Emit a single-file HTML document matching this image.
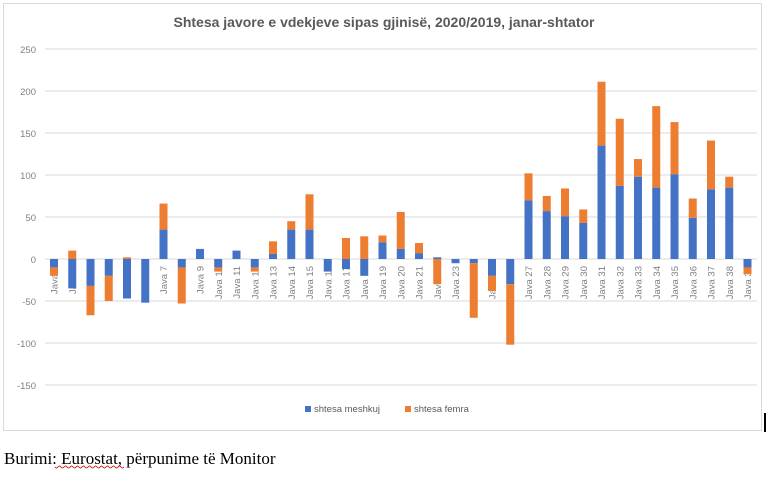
<!DOCTYPE html>
<html><head><meta charset="utf-8"><style>
body{margin:0;background:#fff;width:768px;height:483px;overflow:hidden}
</style></head><body>
<svg width="768" height="483" xmlns="http://www.w3.org/2000/svg" font-family="'Liberation Sans', sans-serif">
<rect x="3.5" y="3.5" width="758" height="427" fill="#fff" stroke="#d9d9d9"/>
<line x1="765" y1="413" x2="765" y2="432" stroke="#000" stroke-width="2"/>
<text x="384" y="27" text-anchor="middle" font-size="14" font-weight="bold" fill="#595959">Shtesa javore e vdekjeve sipas gjinisë, 2020/2019, janar-shtator</text>
<g id="g"></g>
<g font-size="9.5" fill="#7f7f7f" text-anchor="end">
<text x="36" y="53">250</text><text x="36" y="95">200</text><text x="36" y="137">150</text><text x="36" y="179">100</text><text x="36" y="221">50</text><text x="36" y="263">0</text><text x="36" y="305">-50</text><text x="36" y="347">-100</text><text x="36" y="389">-150</text>
</g>
<rect x="305" y="406" width="6" height="6" fill="#4472c4"/>
<text x="314" y="412" font-size="9.5" fill="#595959">shtesa meshkuj</text>
<rect x="405" y="406" width="6" height="6" fill="#ed7d31"/>
<text x="414" y="412" font-size="9.5" fill="#595959">shtesa femra</text>
<text x="4" y="464" font-family="'Liberation Serif', serif" font-size="17" fill="#000">Burimi: Eurostat, përpunime të Monitor</text>
<path d="M55 467 q1.5 2 3 0 t3 0 t3 0 t3 0 t3 0 t3 0 t3 0 t3 0 t3 0 t3 0 t3 0 t3 0 t3 0 t3 0 t3 0 t3 0 t3 0 t3 0 t3 0 t3 0 t3 0 t3 0 t3 0" fill="none" stroke="#c00" stroke-width="0.8"/>
</svg>
<script>
var d=[[-10,-10],[-35,10],[-32,-35],[-20,-30],[-47,2],[-52,0],[35,31],[-10,-43],[12,0],[-10,-5],[10,0],[-10,-5],[6,15],[35,10],[35,42],[-15,0],[-12,25],[-20,27],[20,8],[12,44],[7,12],[2,-30],[-5,0],[-5,-65],[-20,-18],[-30,-72],[70,32],[57,18],[51,33],[43,16],[135,76],[87,80],[98,21],[85,97],[101,62],[49,23],[83,58],[85,13],[-10,-8]];
var ns="http://www.w3.org/2000/svg",g=document.getElementById("g"),s="";
var Z=259,k=0.84;
for(var v=250;v>=-150;v-=50){var y=Z-v*k;s+='<line x1="45" x2="757" y1="'+y+'" y2="'+y+'" stroke="#d9d9d9"/>';}
function bar(x,a,b,c){var y1=Z-a*k,y2=Z-b*k;s+='<rect x="'+(x-4)+'" y="'+Math.min(y1,y2)+'" width="8" height="'+Math.abs(y1-y2)+'" fill="'+c+'"/>';}
for(var i=0;i<d.length;i++){
var x=54+i*18.25;s+='<text transform="translate('+(x+3.5)+',266) rotate(-90)" text-anchor="end" font-size="9.5" fill="#7f7f7f">Java '+(i+1)+'</text>';}
for(var i=0;i<d.length;i++){
var x=54+i*18.25,b=d[i][0],o=d[i][1],p=0,n=0;
if(b>=0){bar(x,0,b,"#4472c4");p=b;}else{bar(x,0,b,"#4472c4");n=b;}
if(o>=0)bar(x,p,p+o,"#ed7d31");else bar(x,n,n+o,"#ed7d31");}
g.innerHTML=s;
</script>
</body></html>
